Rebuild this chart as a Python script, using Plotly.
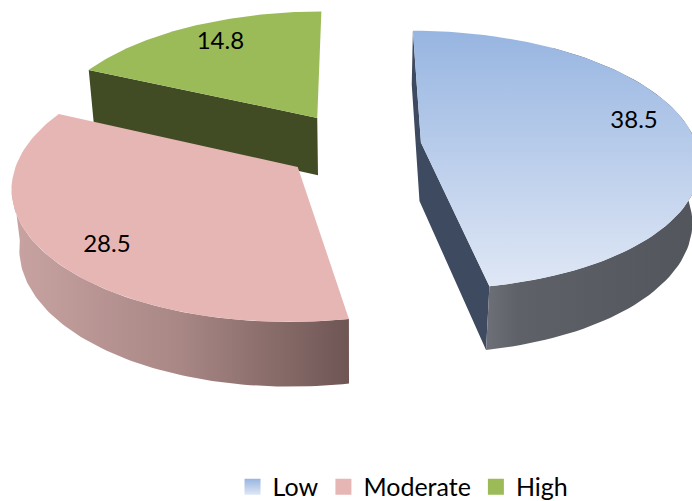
import math
import plotly.graph_objects as go

# Chart data
categories = ["Low", "Moderate", "High"]
values = [38.5, 28.5, 14.8]

# Colours per slice
top_fill = {
    "Low": dict(type="vertical", colorscale=[[0, "#dfe7f5"], [1, "#97b5e1"]]),
    "Moderate": dict(type="vertical", colorscale=[[0, "#e6b6b4"], [1, "#e6b6b4"]]),
    "High": dict(type="vertical", colorscale=[[0, "#9bbb59"], [1, "#9bbb59"]]),
}
outer_fill = {
    "Low": dict(type="horizontal", colorscale=[[0, "#6d7078"], [0.15, "#5e6168"], [1, "#52555b"]]),
    "Moderate": dict(type="horizontal", colorscale=[[0, "#c8a3a2"], [0.5, "#a88785"], [1, "#6e5654"]]),
    "High": dict(type="horizontal", colorscale=[[0, "#404a24"], [1, "#404a24"]]),
}
face_color = {"Low": "#3e4a5f", "Moderate": "#8f6f6e", "High": "#414b24"}
swatch = {"Low": ("#97b5e1", "#dfe7f5"), "Moderate": ("#e6b6b4", "#e6b6b4"), "High": ("#9bbb59", "#9bbb59")}
# Label anchor inside each slice: radius, clock angle in degrees
label_polar = {"Low": (0.815, 78.2), "Moderate": (0.818, 228.3), "High": (0.787, 329.0)}

# Projection of the tilted pie onto the pixel plane
CX, CY = 353, 146
A, B = 276, 128
PERSP = 0.135
SHRINK = 0.022
DEPTH = 60
EXPLODE_X = 0.248
EXPLODE_V = 0.266
# Height left for the plot area once the legend has taken its strip
PLOT_H = 465


def project(slice_mid, radius, angle, z=0.0):
    u = EXPLODE_X * math.sin(slice_mid) + radius * math.sin(angle)
    v = -EXPLODE_V * math.cos(slice_mid) - radius * math.cos(angle)
    s = 1 / (1 - PERSP * v + SHRINK * z)
    return CX + A * u * s, CY + (B * v + DEPTH * z) * s


def arc(slice_mid, a0, a1, z=0.0, n=80):
    pts = [project(slice_mid, 1, a0 + (a1 - a0) * i / n, z) for i in range(n + 1)]
    return pts


def polygon(pts, name, **style):
    xs = [p[0] for p in pts] + [pts[0][0]]
    ys = [p[1] for p in pts] + [pts[0][1]]
    return go.Scatter(x=xs, y=ys, mode="lines", fill="toself", line=dict(width=0),
                      name=name, showlegend=False, hoverinfo="skip", **style)


total = sum(values)
spans = {}
cum = 0.0
for cat, val in zip(categories, values):
    start = cum / total * 2 * math.pi
    cum += val
    spans[cat] = (start, cum / total * 2 * math.pi)

fig = go.Figure()

# Painted back to front: High, Moderate, Low
for cat in ["High", "Moderate", "Low"]:
    a0, a1 = spans[cat]
    mid = (a0 + a1) / 2
    apex_top = project(mid, 0, 0)
    apex_bot = project(mid, 0, 0, 1)
    if cat == "Low":
        # Both cut faces show on the left of the slice
        pts = [project(mid, 1, a0), apex_top, project(mid, 1, a1),
               project(mid, 1, a1, 1), apex_bot, project(mid, 1, a0, 1)]
        fig.add_trace(polygon(pts, cat, fillcolor=face_color[cat]))
        vis = (a0 + 0.6, a1)
    elif cat == "High":
        pts = [project(mid, 1, a0), apex_top, project(mid, 1, a1),
               apex_top, apex_bot, project(mid, 1, a0, 1)]
        fig.add_trace(polygon(pts, cat, fillcolor=face_color[cat]))
        vis = None
    else:
        vis = (a0, 1.5 * math.pi - 0.1)
    if vis:
        wall = arc(mid, vis[0], vis[1]) + arc(mid, vis[1], vis[0], 1)
        fig.add_trace(polygon(wall, cat, fillgradient=outer_fill[cat]))
    top = [apex_top] + arc(mid, a0, a1)
    fig.add_trace(polygon(top, cat, fillgradient=top_fill[cat]))

for cat, val in zip(categories, values):
    a0, a1 = spans[cat]
    mid = (a0 + a1) / 2
    r, deg = label_polar[cat]
    x, y = project(mid, r, math.radians(deg))
    fig.add_trace(go.Scatter(x=[x], y=[y], mode="text", text=[f"{val}"], showlegend=False,
                             textposition="middle center", hoverinfo="skip",
                             textfont=dict(family="Lato", size=24, color="#000000")))

# Legend keys
for cat in categories:
    c0, c1 = swatch[cat]
    fig.add_trace(go.Scatter(x=[None], y=[None], mode="markers", name=cat,
                             marker=dict(symbol="square", size=16, color=c0,
                                         gradient=dict(type="vertical", color=c1))))

fig.update_layout(
    width=692, height=501,
    margin=dict(l=0, r=0, t=0, b=0),
    paper_bgcolor="white", plot_bgcolor="white",
    xaxis=dict(range=[0, 692], visible=False, fixedrange=True),
    yaxis=dict(range=[PLOT_H, 0], visible=False, fixedrange=True),
    legend=dict(orientation="h", x=0.336, y=0.028, xanchor="left", yanchor="middle",
                xref="container", yref="container",
                font=dict(family="Lato", size=25, color="#000000"),
                itemwidth=30, traceorder="normal", bgcolor="rgba(0,0,0,0)"),
)
fig.write_html("out.html")
